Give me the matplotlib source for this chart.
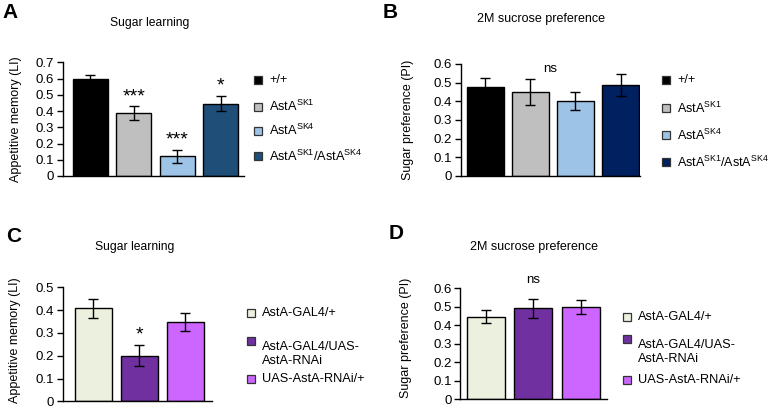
import matplotlib
matplotlib.use("Agg")
import matplotlib.pyplot as plt
from matplotlib.lines import Line2D

plt.rcParams['font.family'] = ['Liberation Sans', 'DejaVu Sans']
plt.rcParams['mathtext.fontset'] = 'custom'
plt.rcParams['mathtext.rm'] = 'Liberation Sans'
plt.rcParams['mathtext.it'] = 'Liberation Sans'

# ---- data ----
labels_ab = ['+/+', r'AstA$^{\mathrm{SK1}}$', r'AstA$^{\mathrm{SK4}}$',
             r'AstA$^{\mathrm{SK1}}$/AstA$^{\mathrm{SK4}}$']
colors_a = ['#000000', '#BFBFBF', '#9DC3E6', '#1F4E79']
colors_b = ['#000000', '#BFBFBF', '#9DC3E6', '#002060']
a_vals = [0.597, 0.385, 0.123, 0.445]
a_err = [0.027, 0.043, 0.040, 0.046]
a_sig = ['', '***', '***', '*']
b_vals = [0.475, 0.452, 0.400, 0.488]
b_err = [0.050, 0.070, 0.048, 0.060]

labels_cd = ['AstA-GAL4/+', 'AstA-GAL4/UAS-\nAstA-RNAi', 'UAS-AstA-RNAi/+']
colors_cd = ['#EBF1DE', '#7030A0', '#CC66FF']
c_vals = [0.408, 0.200, 0.348]
c_err = [0.041, 0.046, 0.040]
c_sig = ['', '*', '']
d_vals = [0.447, 0.492, 0.499]
d_err = [0.033, 0.051, 0.040]

W, H = 772, 408
fig = plt.figure(figsize=(W / 100, H / 100), dpi=100)


def fx(px):
    return px / W


def fy(py):
    return 1 - py / H


def make_ax(l, r, t, b):
    return fig.add_axes([fx(l), fy(b), fx(r) - fx(l), fy(t) - fy(b)])


def style(ax, ymax, xlim):
    ax.set_ylim(0, ymax)
    ax.set_xlim(*xlim)
    for s in ['top', 'right']:
        ax.spines[s].set_visible(False)
    for s in ['left', 'bottom']:
        ax.spines[s].set_linewidth(1.0)
    ax.set_xticks([])
    ax.tick_params(axis='y', direction='out', length=4, width=1, labelsize=9.5, pad=2)
    ax.yaxis.set_major_formatter(matplotlib.ticker.FuncFormatter(
        lambda v, p: '0' if abs(v) < 1e-9 else f'{v:.1f}'))


def bars(ax, vals, errs, cols, width):
    x = list(range(len(vals)))
    ax.bar(x, vals, width=width, color=cols, edgecolor='black', linewidth=1.0, zorder=2)
    ax.errorbar(x, vals, yerr=errs, fmt='none', ecolor='black', elinewidth=1.0,
                capsize=3.5, capthick=1.0, zorder=3)
    return x


def legend(xsq, xtxt, ys, labels, cols, fs=9.2):
    for y, lab, c in zip(ys, labels, cols):
        fig.add_artist(Line2D([fx(xsq)], [fy(y)], marker='s', markersize=5.5,
                              markerfacecolor=c, markeredgecolor='#333333',
                              markeredgewidth=0.9, transform=fig.transFigure))
        fig.text(fx(xtxt), fy(y), lab, fontsize=fs, ha='left',
                 va='top' if '\n' in lab else 'center', transform=fig.transFigure)


# Panel A
axA = make_ax(62.7, 244, 62.3, 176)
style(axA, 0.7, (-0.64, 3.54))
xa = bars(axA, a_vals, a_err, colors_a, 0.81)
axA.set_yticks([0, 0.1, 0.2, 0.3, 0.4, 0.5, 0.6, 0.7])
for xi, v, e, s in zip(xa, a_vals, a_err, a_sig):
    if s:
        axA.text(xi, v + e + 0.008, s, ha='center', va='bottom', fontsize=14)

# Panel B
axB = make_ax(460.7, 640, 64, 176)
style(axB, 0.6, (-0.54, 3.43))
bars(axB, b_vals, b_err, colors_b, 0.82)
axB.set_yticks([0, 0.1, 0.2, 0.3, 0.4, 0.5, 0.6])
axB.text(1.45, 0.575, 'ns', ha='center', va='center', fontsize=9.5)

# Panel C
axC = make_ax(62.7, 211.7, 287.3, 401.3)
style(axC, 0.5, (-0.66, 2.57))
xc = bars(axC, c_vals, c_err, colors_cd, 0.8)
axC.set_yticks([0, 0.1, 0.2, 0.3, 0.4, 0.5])
for xi, v, e, s in zip(xc, c_vals, c_err, c_sig):
    if s:
        axC.text(xi, v + e + 0.006, s, ha='center', va='bottom', fontsize=14)

# Panel D
axD = make_ax(460, 606.7, 288.3, 399)
style(axD, 0.6, (-0.55, 2.55))
bars(axD, d_vals, d_err, colors_cd, 0.8)
axD.set_yticks([0, 0.1, 0.2, 0.3, 0.4, 0.5, 0.6])
axD.text(1, 0.645, 'ns', ha='center', va='center', fontsize=9.5, clip_on=False)

# y labels
fig.text(fx(16.5), fy(119), 'Appetitive memory (LI)', rotation=90, ha='center', va='center', fontsize=9)
fig.text(fx(408), fy(120), 'Sugar preference (PI)', rotation=90, ha='center', va='center', fontsize=9)
fig.text(fx(15.5), fy(340), 'Appetitive memory (LI)', rotation=90, ha='center', va='center', fontsize=9)
fig.text(fx(406.5), fy(338), 'Sugar preference (PI)', rotation=90, ha='center', va='center', fontsize=9)

# titles
fig.text(fx(150), fy(23), 'Sugar learning', ha='center', va='center', fontsize=8.7)
fig.text(fx(541), fy(19), '2M sucrose preference', ha='center', va='center', fontsize=9)
fig.text(fx(135), fy(247), 'Sugar learning', ha='center', va='center', fontsize=8.7)
fig.text(fx(534), fy(247), '2M sucrose preference', ha='center', va='center', fontsize=9)

# panel letters
for lx, ly, L in [(2, 12, 'A'), (383, 12, 'B'), (6, 236, 'C'), (389, 234, 'D')]:
    fig.text(fx(lx), fy(ly), L, ha='left', va='center', fontsize=15, fontweight='bold')

# legends
legend(258, 269, [80, 106.5, 130.5, 156], labels_ab, colors_a)
legend(666, 677, [80, 108, 135, 162], labels_ab, colors_b, fs=9.0)
legend(251, 262, [313, 341, 379], labels_cd, colors_cd)
legend(627, 638, [317, 339, 380], labels_cd, colors_cd)

fig.savefig('out.png', dpi=100)
